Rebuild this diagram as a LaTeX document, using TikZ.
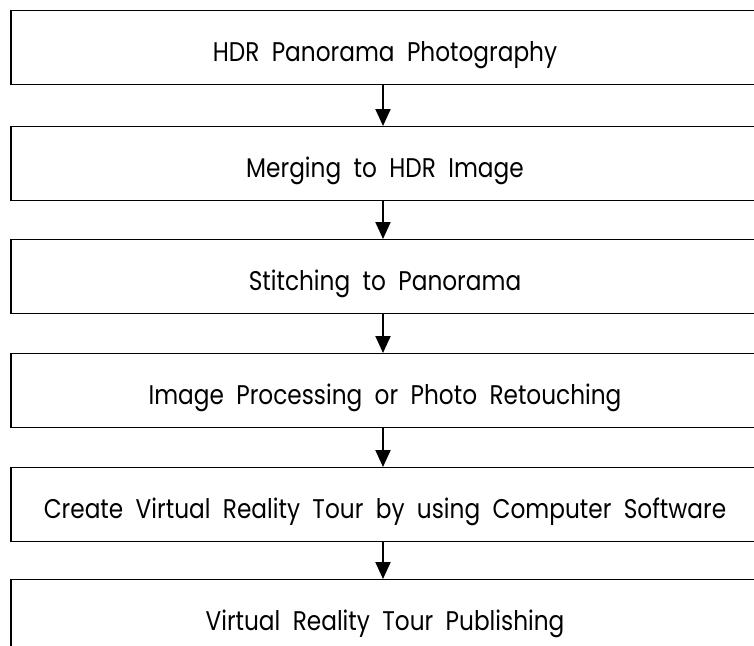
\documentclass[tikz,border=0pt]{standalone}
\usepackage{fontspec}
\setmainfont{Poppins}[FakeStretch=0.86,WordSpace=2.0]
\usetikzlibrary{arrows.meta}
\begin{document}
\begin{tikzpicture}[x=1pt,y=-1pt,
  stepbox/.style={draw=black,line width=1.3pt,minimum width=748pt,minimum height=74pt,inner sep=0pt,text height=28pt,text depth=0pt,anchor=north,font=\fontsize{27}{30}\selectfont},
  flow/.style={line width=2pt,-{Triangle[length=17pt,width=15pt]}}]
\useasboundingbox (0,0) rectangle (754,645);
\node[stepbox] (b1) at (385,10) {HDR Panorama Photography};
\node[stepbox] (b2) at (385,126) {Merging to HDR Image};
\node[stepbox] (b3) at (385,239) {Stitching to Panorama};
\node[stepbox] (b4) at (385,353) {Image Processing or Photo Retouching};
\node[stepbox] (b5) at (385,467) {Create Virtual Reality Tour by using Computer Software};
\node[stepbox] (b6) at (385,579) {Virtual Reality Tour Publishing};
\coordinate (c) at (383,0);
\draw[flow] (b1.south -| c) -- (b2.north -| c);
\draw[flow] (b2.south -| c) -- (b3.north -| c);
\draw[flow] (b3.south -| c) -- (b4.north -| c);
\draw[flow] (b4.south -| c) -- (b5.north -| c);
\draw[flow] (b5.south -| c) -- (b6.north -| c);
\end{tikzpicture}
\end{document}
